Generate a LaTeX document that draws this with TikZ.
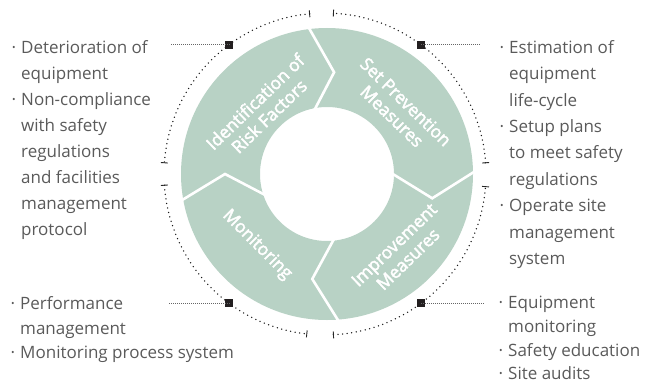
\documentclass[tikz,border=0pt]{standalone}
\usepackage{fontspec}
\setmainfont{Open Sans}
\newfontfamily\labfont[FakeBold=2.5]{Open Sans}
\usetikzlibrary{calc}
\definecolor{ringc}{HTML}{B8D2C5}
\definecolor{txt}{HTML}{5A5A5A}
\definecolor{sq}{HTML}{231F20}
\newcommand{\bul}{\llap{\textperiodcentered\hspace{5pt}}}
\begin{document}
\begin{tikzpicture}[x=1pt,y=1pt,
  sep/.style={white,line width=2.6pt,line join=miter},
  side/.style={anchor=north west,align=left,text=txt,inner sep=0pt},
  lab/.style={text=white,align=center,font=\labfont\fontsize{17.5}{20}\selectfont,inner sep=0pt},
  dotc/.style={line width=1.5pt,dash pattern=on 0pt off 4.6pt,line cap=round,color=black!90},
  tickmark/.style={line width=0.9pt,black!85},
  hline/.style={line width=0.7pt,dash pattern=on 0.7pt off 1.3pt,black!60},
  sqr/.style={fill=sq,minimum size=8pt,inner sep=0pt,draw=none,rectangle}
]
\useasboundingbox (0,0) rectangle (647,389);
\coordinate (C) at (327,215);
\coordinate (D) at (325,215);
% ring
\fill[ringc,even odd rule] (C) circle[radius=146] (C) circle[radius=67];
\begin{scope}[shift={(C)}]
  \draw[sep] (97.5:150) -- (86:102) -- (102:64);
  \draw[sep] (1.5:150) -- (-13:108) -- (1:64);
  \draw[sep] (-85:150) -- (-98:106) -- (-83:64);
  \draw[sep] (190.6:150) -- (180:102) -- (200:64);
\end{scope}
% dotted circle
\begin{scope}[shift={(D)}]
  \draw[dotc] (4:161) arc[start angle=4,end angle=87,radius=161];
  \draw[dotc] (95.5:161) arc[start angle=95.5,end angle=176,radius=161];
  \draw[dotc] (184:161) arc[start angle=184,end angle=263.5,radius=161];
  \draw[dotc] (273:161) arc[start angle=273,end angle=355.5,radius=161];
  \foreach \a in {4,87,95.5,176,184,263.5,273,355.5}
    \draw[tickmark] (\a:157.5) -- (\a:164.5);
  \node[sqr] (s1) at (126.5:161) {};
  \node[sqr] (s2) at (53.5:161) {};
  \node[sqr] (s3) at (233.5:161) {};
  \node[sqr] (s4) at (306.5:161) {};
\end{scope}
\coordinate (e1) at (170,0);
\coordinate (e2) at (480,0);
\coordinate (e3) at (168,0);
\coordinate (e4) at (483,0);
\draw[hline] (s1.center) -- (s1.center -| e1);
\draw[hline] (s2.center) -- (s2.center -| e2);
\draw[hline] (s3.center) -- (s3.center -| e3);
\draw[hline] (s4.center) -- (s4.center -| e4);
% ring labels
\node[lab,rotate=44] (l1) at (262,280) {Identification of\\Risk Factors};
\node[lab,rotate=-44] (l2) at (399,280) {Set Prevention\\Measures};
\node[lab,rotate=-45] (l3) at (257,144) {Monitoring};
\node[lab,rotate=44] (l4) at (401,137) {Improvement\\Measures};
% side texts
\node[side,font=\fontsize{17}{26}\selectfont] (t1) at (21,348.5) {\bul Deterioration of\\equipment\\\bul Non-compliance\\with safety\\regulations\\and facilities\\management\\protocol};
\node[side,font=\fontsize{17}{26.4}\selectfont] (t2) at (509,349) {\bul Estimation of\\equipment\\life-cycle\\\bul Setup plans\\to meet safety\\regulations\\\bul Operate site\\management\\system};
\node[side,font=\fontsize{17}{24.5}\selectfont] (t3) at (20,92.5) {\bul Performance\\management\\\bul Monitoring process system};
\node[side,font=\fontsize{17}{23.7}\selectfont] (t4) at (508,93) {\bul Equipment\\monitoring\\\bul Safety education\\\bul Site audits};
\end{tikzpicture}
\end{document}
